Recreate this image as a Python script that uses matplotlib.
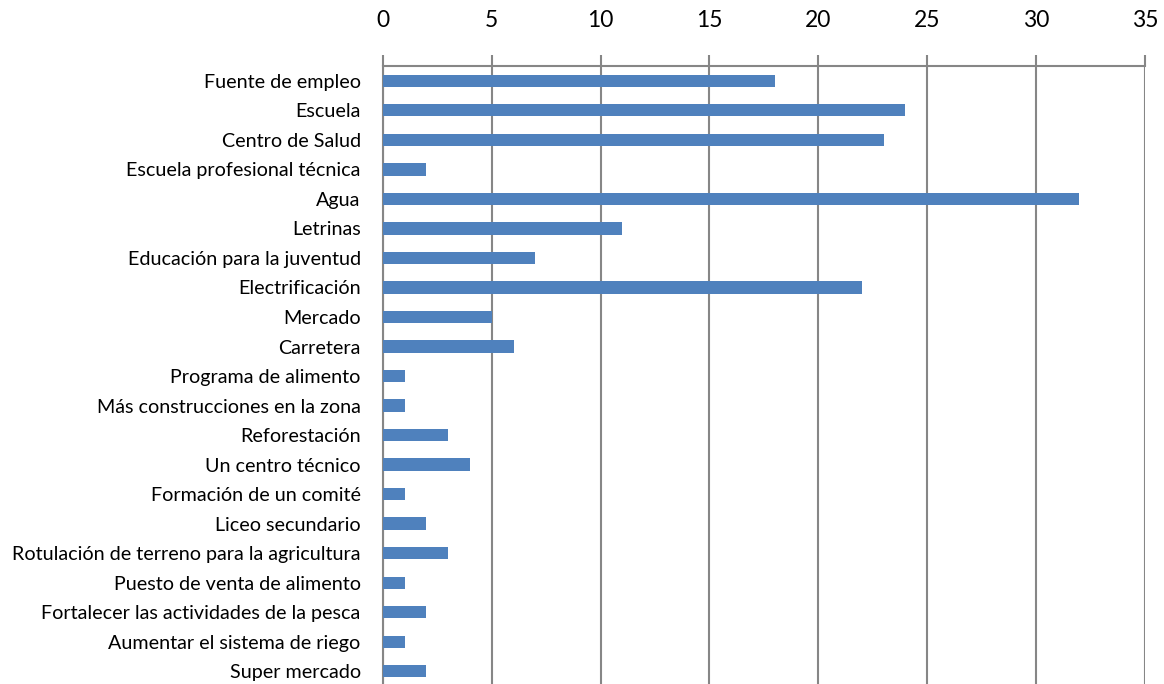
import matplotlib.pyplot as plt

categories = [
    "Fuente de empleo", "Escuela", "Centro de Salud", "Escuela profesional técnica",
    "Agua", "Letrinas", "Educación para la juventud", "Electrificación", "Mercado",
    "Carretera", "Programa de alimento", "Más construcciones en la zona",
    "Reforestación", "Un centro técnico", "Formación de un comité", "Liceo secundario",
    "Rotulación de terreno para la agricultura", "Puesto de venta de alimento",
    "Fortalecer las actividades de la pesca", "Aumentar el sistema de riego",
    "Super mercado",
]
values = [18, 24, 23, 2, 32, 11, 7, 22, 5, 6, 1, 1, 3, 4, 1, 2, 3, 1, 2, 1, 2]
x_ticks = [0, 5, 10, 15, 20, 25, 30, 35]

plt.rcParams['font.family'] = ['Lato', 'DejaVu Sans']
grid_color = '#868686'

fig = plt.figure(figsize=(11.64, 6.84), dpi=100)
ax = fig.add_axes([0.329, -0.003, 0.6545, 0.9065])

ax.barh(range(len(categories)), values, height=0.42, color='#4F81BD', zorder=3)

ax.set_xlim(0, 35)
ax.set_ylim(len(categories) - 0.5, -0.5)
ax.set_xticks(x_ticks)
ax.set_yticks(range(len(categories)))
ax.set_yticklabels(categories, fontsize=14.2)

ax.xaxis.tick_top()
ax.tick_params(axis='x', direction='out', length=8, width=1.5, color=grid_color,
               labelsize=16.5, pad=17)
ax.tick_params(axis='y', length=0, pad=16)
ax.grid(axis='x', color=grid_color, linewidth=1.5, zorder=0)

for side in ['right', 'bottom']:
    ax.spines[side].set_visible(False)
ax.spines['top'].set_color(grid_color)
ax.spines['top'].set_linewidth(1.5)
ax.spines['left'].set_color(grid_color)
ax.spines['left'].set_linewidth(1.5)

fig.savefig('out.png', dpi=100)
